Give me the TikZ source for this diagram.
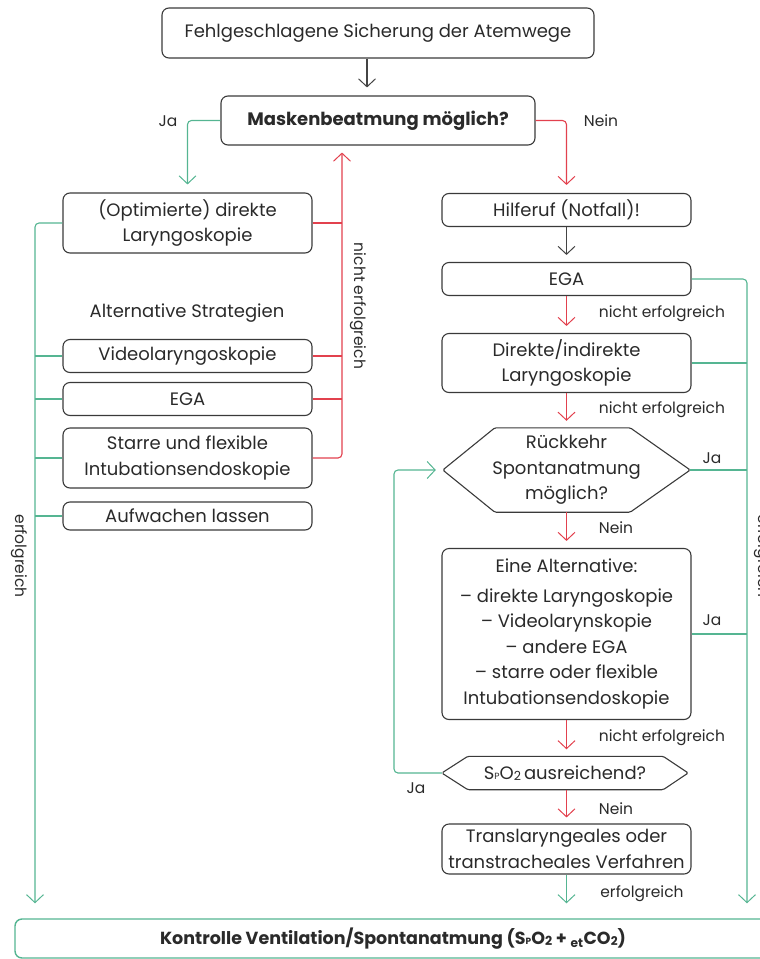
\documentclass[tikz,border=0pt]{standalone}
\usepackage{fontspec}
\setmainfont{Poppins}
\usetikzlibrary{arrows.meta,calc}
\definecolor{boxc}{HTML}{3A3A3A}
\definecolor{txtc}{HTML}{2A2A2A}
\definecolor{gl}{HTML}{55B592}
\definecolor{rl}{HTML}{E2414E}
\definecolor{ga}{HTML}{444444}
\newcommand{\spo}{S\raisebox{-0.5pt}{\fontsize{9}{9}\selectfont P}O\raisebox{-1pt}{\fontsize{12.5}{12.5}\selectfont 2}}
\tikzset{
  box/.style={draw=boxc, line width=1.1pt, rounded corners=7pt, align=center, inner sep=0pt,
    text=txtc, font=\fontsize{18}{25.5}\selectfont, minimum width=249pt},
  hexnode/.style={align=center, inner sep=0pt, text=txtc, font=\fontsize{18}{25.5}\selectfont},
  hexline/.style={draw=boxc, line width=1.1pt, rounded corners=1.5pt},
  lbl/.style={text=txtc, font=\fontsize{15.5}{18}\selectfont, inner sep=0pt},
  tip/.style={-{Straight Barb[length=8pt,width=17pt,line width=1pt]}},
  gline/.style={draw=gl, line width=1.1pt, rounded corners=4pt},
  rline/.style={draw=rl, line width=1.1pt, rounded corners=4pt},
  kline/.style={draw=ga, line width=1.1pt},
}
\begin{document}
\begin{tikzpicture}[x=1pt,y=-1pt]
\useasboundingbox (0,0) rectangle (760,959);
% top
\node[box, minimum width=432pt, minimum height=50pt] (top) at (378,33) {Fehlgeschlagene Sicherung der Atemwege};
\node[box, minimum width=314pt, minimum height=49pt, font=\fontsize{18}{22}\selectfont\bfseries] (mask) at (378,120.5) {Maskenbeatmung möglich?};
\node[lbl] (ja0) at (168,121) {Ja};
\node[lbl] (nein0) at (601,121) {Nein};
% left column
\node[box, minimum height=60pt] (opt) at (187.5,223) {(Optimierte) direkte\\Laryngoskopie};
\node[lbl, font=\fontsize{18}{20}\selectfont] (alt0) at (187,313) {Alternative Strategien};
\node[box, minimum height=33pt] (video) at (187.5,356) {Videolaryngoskopie};
\node[box, minimum height=33pt] (ega1) at (187.5,399) {EGA};
\node[box, minimum height=60pt] (starre) at (187.5,458) {Starre und flexible\\Intubationsendoskopie};
\node[box, minimum height=28pt] (aufw) at (187.5,516) {Aufwachen lassen};
\coordinate (lx) at (35,600);
\coordinate (rx) at (342,300);
% right column
\node[box, minimum height=33pt] (hilf) at (566.5,210) {Hilferuf (Notfall)!};
\node[box, minimum height=33pt] (ega2) at (566.5,279) {EGA};
\node[box, minimum height=59pt] (dir) at (566.5,363) {Direkte/indirekte\\Laryngoskopie};
\node[hexnode, minimum width=247pt, minimum height=84pt] (hex1) at (566.5,470) {Rückkehr\\Spontanatmung\\möglich?};
\draw[hexline] (hex1.west) -- ($(hex1.north west)+(52,0)$) -- ($(hex1.north east)+(-60,0)$) -- (hex1.east) -- ($(hex1.south east)+(-60,0)$) -- ($(hex1.south west)+(52,0)$) -- cycle;
\node[box, minimum height=171pt] (alt) at (566.5,634) {Eine Alternative:\\[4pt]– direkte Laryngoskopie\\– Videolarynskopie\\– andere EGA\\– starre oder flexible\\Intubationsendoskopie};
\node[hexnode, minimum width=246pt, minimum height=33pt] (hex2) at (565,773) {\spo\,ausreichend?};
\draw[hexline] (hex2.west) -- ($(hex2.north west)+(26,0)$) -- ($(hex2.north east)+(-25,0)$) -- (hex2.east) -- ($(hex2.south east)+(-25,0)$) -- ($(hex2.south west)+(26,0)$) -- cycle;
\node[box, minimum height=50pt] (trans) at (566.5,849) {Translaryngeales oder\\transtracheales Verfahren};
\coordinate (rx2) at (747,600);
\coordinate (lp) at (394,600);
% bottom
\node[box, draw=gl, line width=1.4pt, minimum width=756pt, minimum height=39pt, font=\fontsize{17.5}{20}\selectfont\bfseries] (bot) at (393,938.5) {Kontrolle Ventilation/Spontanatmung (\spo{} + \textsubscript{et}CO\raisebox{-1pt}{\fontsize{12}{12}\selectfont 2})};
% labels
\node[lbl] (ne1) at (662,314) {nicht erfolgreich};
\node[lbl] (ne2) at (662,410) {nicht erfolgreich};
\node[lbl] (ne3) at (662,738) {nicht erfolgreich};
\node[lbl] (nein1) at (616,528) {Nein};
\node[lbl] (nein2) at (616,809) {Nein};
\node[lbl] (ja1) at (712,458) {Ja};
\node[lbl] (ja2) at (712,620) {Ja};
\node[lbl] (ja3) at (416,788) {Ja};
\node[lbl] (erf1) at (642,894) {erfolgreich};
\node[lbl, rotate=-90] (neL) at (358,306) {nicht erfolgreich};
\node[lbl, rotate=-90] (erfL) at (19,556) {erfolgreich};
\node[lbl, rotate=-90] (erfR) at (762,556) {erfolgreich};
% connectors
\draw[kline, tip, shorten >=8pt] ([xshift=-11pt]top.south) -- ([xshift=-11pt]top.south |- mask.north);
\draw[gline, tip, shorten >=8pt] (mask.west) -| (opt.north);
\draw[rline, tip, shorten >=8pt] (mask.east) -| (hilf.north);
\draw[rline, tip, shorten >=7pt] (starre.east) -| (rx |- mask.south);
\draw[rline] (opt.east) -- (opt.east -| rx);
\draw[rline] (video.east) -- (video.east -| rx);
\draw[rline] (ega1.east) -- (ega1.east -| rx);
\draw[gline, tip, shorten >=15pt] (opt.west) -| (lx |- bot.north);
\draw[gline] (video.west) -- (video.west -| lx);
\draw[gline] (ega1.west) -- (ega1.west -| lx);
\draw[gline] (starre.west) -- (starre.west -| lx);
\draw[gline] (aufw.west) -- (aufw.west -| lx);
\draw[kline, tip, shorten >=7pt] (hilf) -- (ega2);
\draw[rline, tip, shorten >=7pt] (ega2) -- (dir);
\draw[rline, tip, shorten >=7pt] (dir) -- (hex1);
\draw[rline, tip, shorten >=7pt] (hex1) -- (alt);
\draw[rline, tip, shorten >=7pt] (alt) -- (hex2.north -| alt.south);
\draw[rline, tip, shorten >=6pt] (hex2.south -| alt.south) -- (trans);
\draw[gline, tip, shorten >=15pt] (trans) -- (trans |- bot.north);
\draw[gline, tip, shorten >=15pt] (ega2.east) -| (rx2 |- bot.north);
\draw[gline] (dir.east) -- (dir.east -| rx2);
\draw[gline] (hex1.east) -- (hex1.east -| rx2);
\draw[gline] (alt.east) -- (alt.east -| rx2);
\draw[gline, tip, shorten >=7pt] (hex2.west) -| (lp) |- (hex1.west);
\end{tikzpicture}
\end{document}
